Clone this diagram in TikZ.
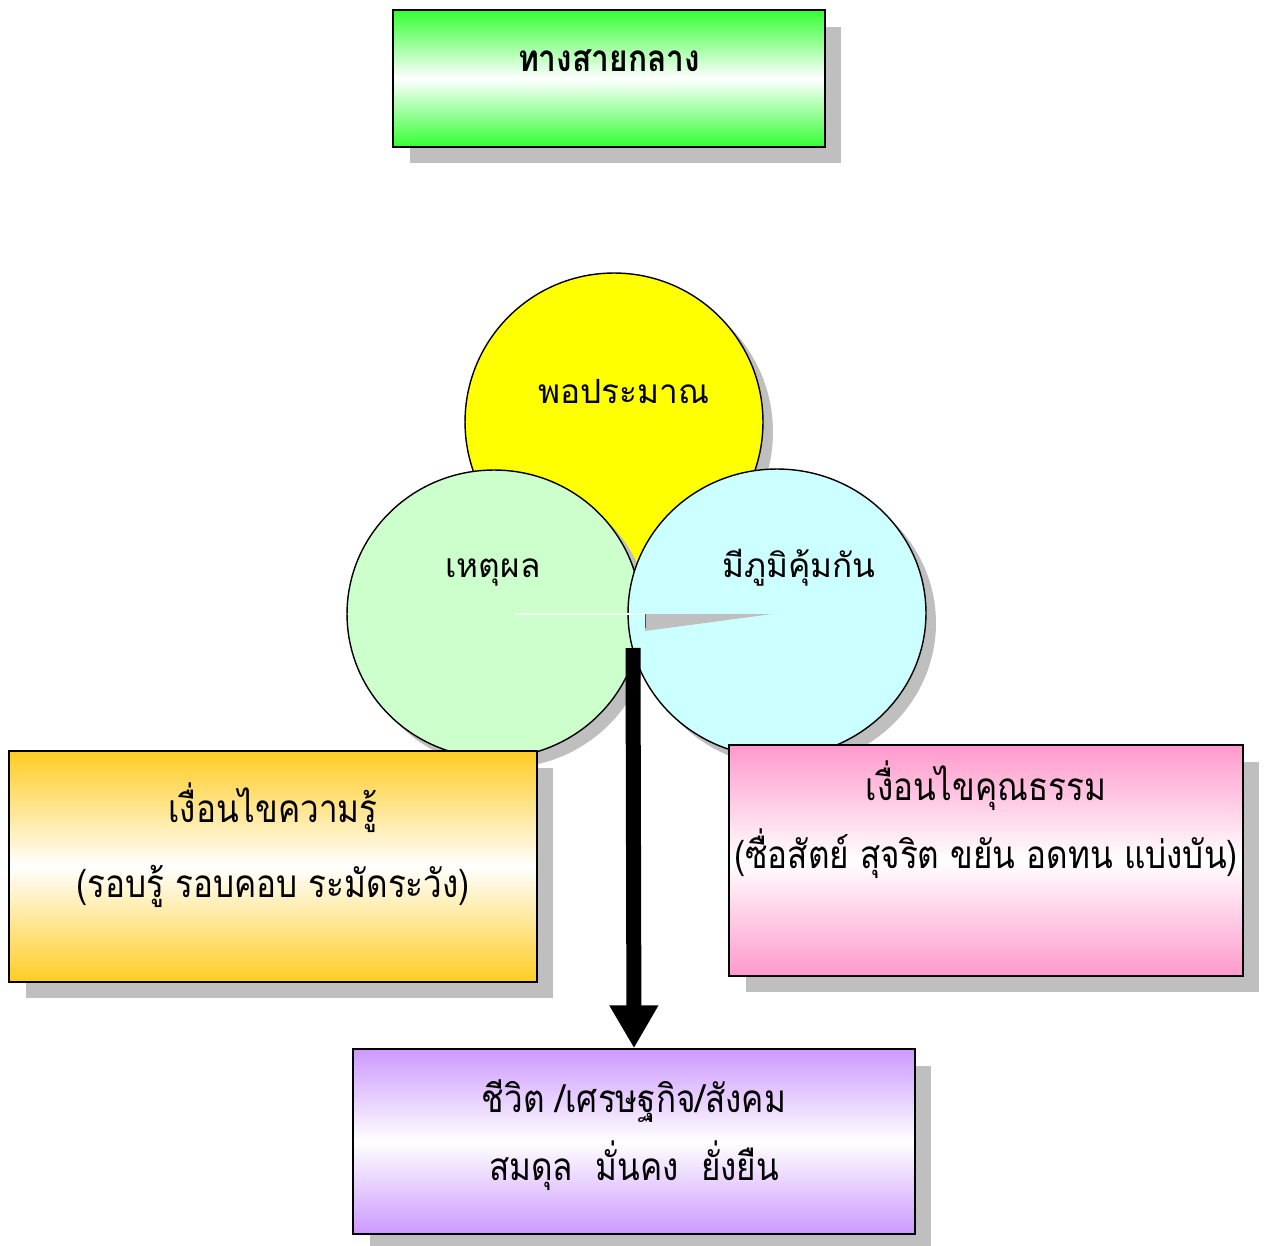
\documentclass[tikz,border=0pt]{standalone}
\usepackage{fontspec}
\newfontfamily\thaifont[Script=Thai]{Loma}
\newfontfamily\thainarrow[Script=Thai, FakeStretch=0.86]{Loma}
\usetikzlibrary{shapes.geometric,
	shadows,
	arrows.meta,
	positioning}
\definecolor{wayg}{HTML}{33FF33}
\definecolor{modyl}{HTML}{FFFF00}
\definecolor{knowo}{HTML}{FFCC22}
\definecolor{virtp}{HTML}{FF99CC}
\definecolor{lifev}{HTML}{CC99FF}
\definecolor{reasg}{HTML}{CCFFCC}
\definecolor{immc}{HTML}{CCFFFF}
\tikzstyle{bx}=[draw, line width=0.8pt, inner sep=0]
\tikzstyle{bsh}=[drop shadow={shadow xshift=0.33cm, shadow yshift=-0.33cm,
		fill=black!25, opacity=1}]
\tikzstyle{csh}=[drop shadow={shadow xshift=0.2cm, shadow yshift=-0.2cm,
		fill=black!25, opacity=1}]
\tikzstyle{crc}=[draw, line width=0.8pt, ellipse, inner sep=0]
\tikzstyle{ctx}=[anchor=base, inner sep=0, font=\thaifont\fontsize{19}{23}\selectfont]
\tikzstyle{btx}=[anchor=base, inner sep=0, font=\thainarrow\fontsize{22}{26}\selectfont]
\tikzstyle{ttx}=[anchor=base, inner sep=0, font=\thainarrow\bfseries\fontsize{21}{25}\selectfont]

\begin{document}
\begin{tikzpicture}[x=0.02cm, y=-0.02cm]
	\useasboundingbox (0,0) rectangle (1264,1246);
	% title
	\node[bx, bsh, top color=wayg, bottom color=wayg, middle color=white,
		minimum width=8.64cm, minimum height=2.74cm] (way) at (609,78.5) {};
	\node[ttx] (wayt) at (609,72) {ทางสายกลาง};
	% three circles
	\node[crc, csh, fill=modyl, minimum width=5.96cm, minimum height=5.96cm] (mod) at (614,422) {};
	\node[crc, csh, fill=reasg, minimum width=5.88cm, minimum height=5.76cm] (reas) at (494,614) {};
	\node[crc, csh, fill=immc, minimum width=5.96cm, minimum height=5.76cm] (imm) at (777,613) {};
	\node[ctx] (modt) at (624,404) {พอประมาณ};
	\node[ctx] (reast) at (493,577) {เหตุผล};
	\node[ctx] (immt) at (799,577) {มีภูมิคุ้มกัน};
	\draw[white!70!reasg, line width=1.5pt] (515,614) -- (645,614);
	\fill[black!25] (645,614) -- (772,614) -- (645,631) -- cycle;
	\draw[black!70] (645,614) -- (645,628);
	% conditions
	\node[bx, bsh, top color=knowo, bottom color=knowo, middle color=white,
		minimum width=10.56cm, minimum height=4.62cm] (know) at (273,866.5) {};
	\node[btx] (knowa) at (273,822) {เงื่อนไขความรู้};
	\node[btx] (knowb) at (273,897) {(รอบรู้ รอบคอบ ระมัดระวัง)};
	\node[bx, bsh, top color=virtp, bottom color=virtp, middle color=white,
		minimum width=10.28cm, minimum height=4.62cm] (virt) at (986,860.5) {};
	\node[btx] (virta) at (986,800) {เงื่อนไขคุณธรรม};
	\node[btx] (virtb) at (986,868) {(ซื่อสัตย์ สุจริต ขยัน อดทน แบ่งบัน)};
	% result
	\node[bx, bsh, top color=lifev, bottom color=lifev, middle color=white,
		minimum width=11.24cm, minimum height=3.7cm] (life) at (634,1141.5) {};
	\node[btx] (lifea) at (634,1112) {ชีวิต /เศรษฐกิจ/สังคม};
	\node[btx] (lifeb) at (634,1180) {สมดุล\ \ มั่นคง\ \ ยั่งยืน};
	\coordinate (src) at (633,648);
	\draw[line width=0.3cm, -{Triangle[length=0.86cm, width=0.92cm]}] (src) -- (life.north);
\end{tikzpicture}
\end{document}
